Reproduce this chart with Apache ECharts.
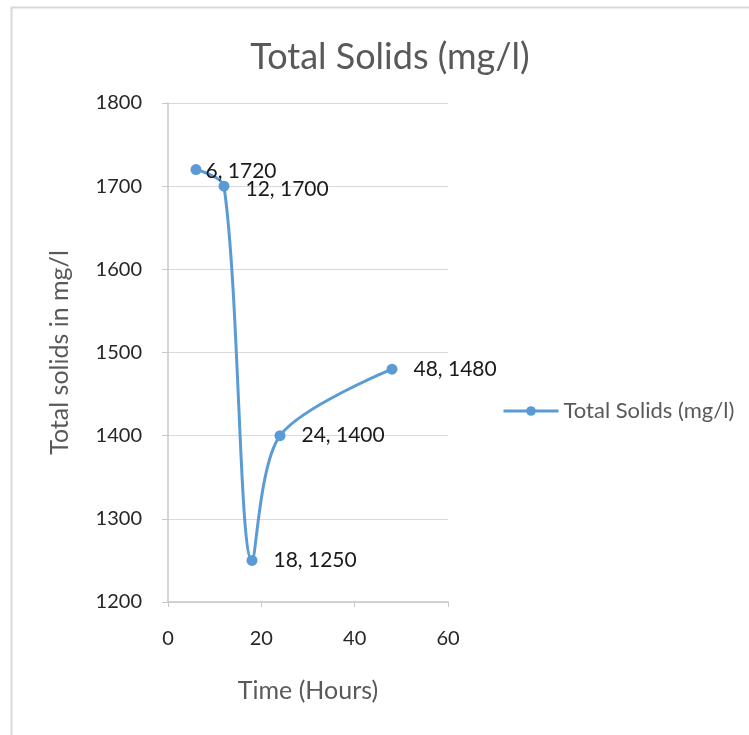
<!DOCTYPE html>
<html><head><meta charset="utf-8">
<script src="https://cdn.jsdelivr.net/npm/echarts@6/dist/echarts.min.js"></script>
<style>html,body{margin:0;padding:0;background:#fff}#c{width:749px;height:735px}</style>
</head><body><div id="c"></div>
<script>
const hours = [6, 12, 18, 24, 48];
const totalSolids = [1720, 1700, 1250, 1400, 1480];
const seriesName = 'Total Solids (mg/l)';
const titleText = 'Total Solids (mg/l)';
const xAxisTitle = 'Time (Hours)';
const yAxisTitle = 'Total solids in mg/l';

const FONT = 'Lato';
const chart = echarts.init(document.getElementById('c'));
const data = hours.map((h, i) => {
  const item = { value: [h, totalSolids[i]] };
  if (i === 0) item.label = { distance: 4, offset: [0, 2] };
  if (i === 1) item.label = { offset: [0, 3] };
  return item;
});
chart.setOption({
  animation: false,
  textStyle: { fontFamily: FONT },
  graphic: [{
    type: 'rect', left: 9, top: 5, z: -1,
    shape: { width: 760, height: 760 },
    style: { fill: 'none', stroke: '#d9d9d9', lineWidth: 2 }
  }],
  title: {
    text: titleText, left: 385, top: 34, textAlign: 'center',
    textStyle: { fontFamily: FONT, fontSize: 36, fontWeight: 'normal', color: '#595959' }
  },
  legend: {
    left: 497, top: 395, itemWidth: 55, itemHeight: 12, itemGap: 3,
    lineStyle: { width: 3 },
    textStyle: { fontFamily: FONT, fontSize: 22, color: '#595959' },
    data: [seriesName]
  },
  grid: { left: 168, right: 301, top: 103, bottom: 133 },
  xAxis: {
    type: 'value', min: 0, max: 60, interval: 20,
    name: xAxisTitle, nameLocation: 'middle', nameGap: 76,
    nameTextStyle: { fontFamily: FONT, fontSize: 25, color: '#595959' },
    axisLine: { show: true, lineStyle: { color: '#c8c8c8', width: 1.5 } },
    axisTick: { show: true, length: 5, lineStyle: { color: '#c8c8c8' } },
    axisLabel: { fontFamily: FONT, fontSize: 20, color: '#262626', margin: 27,
      formatter: v => String(v) },
    splitLine: { show: false }
  },
  yAxis: {
    type: 'value', min: 1200, max: 1800, interval: 100,
    name: yAxisTitle, nameLocation: 'middle', nameGap: 96, nameRotate: 90,
    nameTextStyle: { fontFamily: FONT, fontSize: 25, color: '#595959' },
    axisLine: { show: true, lineStyle: { color: '#c8c8c8', width: 1.5 } },
    axisTick: { show: true, length: 6, lineStyle: { color: '#c8c8c8' } },
    axisLabel: { fontFamily: FONT, fontSize: 20, color: '#262626', margin: 26,
      formatter: v => String(v) },
    splitLine: { show: true, lineStyle: { color: '#d9d9d9', width: 1 } }
  },
  series: [{
    name: seriesName, type: 'line', smooth: 0.3,
    data: data,
    symbol: 'circle', symbolSize: 11,
    lineStyle: { color: '#5b9bd5', width: 3 },
    itemStyle: { color: '#5b9bd5' },
    label: {
      show: true, position: 'right', distance: 16,
      fontFamily: FONT, fontSize: 21, color: '#1a1a1a',
      formatter: p => p.value[0] + ', ' + p.value[1]
    }
  }]
});
</script></body></html>
